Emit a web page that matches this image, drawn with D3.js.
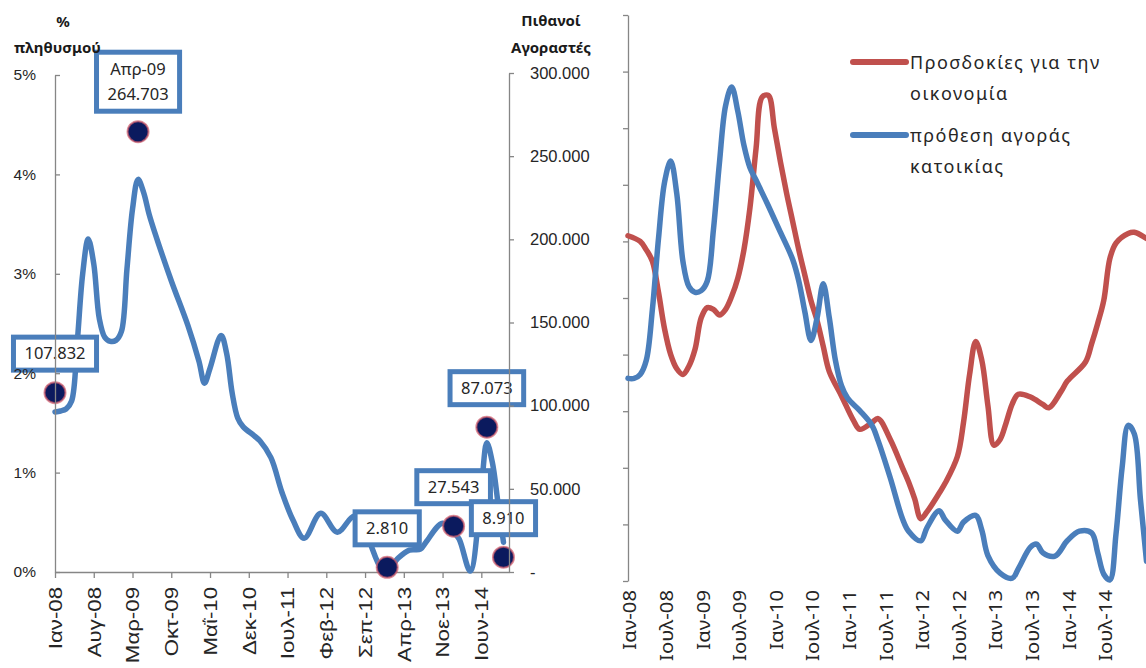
<!DOCTYPE html>
<html>
<head>
<meta charset="utf-8">
<script src="https://cdn.jsdelivr.net/npm/d3@7"></script>
<style>
  body { margin: 0; background: #fff; }
  svg { display: block; font-family: "Noto Sans", "DejaVu Sans", sans-serif; }
</style>
</head>
<body>
<svg id="chart" width="1146" height="668"></svg>
<script>
// ---------- Left panel: share of population intending to buy (month 0 = Ιαν-08) ----------
const shareMonths = [0, 1, 2, 3, 4, 5, 6, 7, 8, 9, 10, 11, 12, 13, 14, 15, 16, 17, 18, 21, 24, 26, 27, 28, 30, 31, 32, 33, 34, 36, 37, 39, 41, 43, 45, 48, 51, 54, 56, 57, 59, 60, 62, 64, 66, 67, 70, 72, 73, 75, 77, 78, 79, 80, 81];
const shareValues = [1.61, 1.62, 1.64, 1.72, 2.3, 3.0, 3.35, 3.1, 2.55, 2.36, 2.32, 2.33, 2.42, 3.05, 3.65, 3.95, 3.82, 3.6, 3.42, 2.93, 2.48, 2.12, 1.9, 2.05, 2.38, 2.2, 1.8, 1.55, 1.46, 1.37, 1.32, 1.15, 0.8, 0.52, 0.34, 0.59, 0.40, 0.56, 0.45, 0.28, 0.03, 0.01, 0.14, 0.22, 0.23, 0.3, 0.49, 0.4, 0.33, 0.01, 0.85, 1.30, 1.1, 0.7, 0.3];

const leftTickMonths = [0, 7, 14, 21, 28, 35, 42, 49, 56, 63, 70, 77];
const leftTickLabels = ["Ιαν-08", "Αυγ-08", "Μαρ-09", "Οκτ-09", "Μαΐ-10", "Δεκ-10", "Ιουλ-11", "Φεβ-12", "Σεπ-12", "Απρ-13", "Νοε-13", "Ιουν-14"];
const shareTicks = [0, 1, 2, 3, 4, 5];
const buyerTicks = [0, 50000, 100000, 150000, 200000, 250000, 300000];

// Highlighted months with the number of potential buyers
const calloutMonths = [0, 15, 60, 72, 78, 81];
const calloutBuyers = [107832, 264703, 2810, 27543, 87073, 8910];
const calloutDates = ["", "Απρ-09", "", "", "", ""];

// ---------- Right panel: two survey indices ----------
const expectMonths = [0, 2, 3, 4, 5, 6, 7, 8, 9, 10, 11, 12, 13, 14, 15, 16, 17, 18, 19, 20, 21, 22, 23, 24, 25, 26, 27, 28, 29, 30, 31, 32, 33, 35, 37, 38, 40, 41, 43, 45, 46, 47, 48, 49, 51, 52, 54, 55, 56, 57, 58, 59, 60, 61, 62, 63, 64, 66, 68, 69, 71, 72, 75, 76, 77, 78, 79, 80, 82, 83, 85];
const expectValues = [61, 60, 58.5, 56.5, 51, 44.5, 40, 37.5, 36.5, 38, 41, 46.5, 48.3, 48, 47, 48, 50.3, 53.5, 58.5, 66, 76.5, 85.5, 85.8, 80, 74, 68.5, 63.5, 58.5, 54, 49.5, 46, 41.5, 37, 32.7, 28.3, 26.8, 28, 28.7, 25, 20, 17.5, 14.5, 11, 12.2, 15.5, 17.3, 22, 28, 36.5, 42.3, 39, 31, 24, 25, 28, 31.3, 33, 32.5, 31.2, 30.6, 33.5, 35.3, 38.7, 41.9, 45.5, 49.6, 57, 59.7, 61.4, 61.6, 60.5];

const intentMonths = [0, 1, 2, 3, 4, 5, 6, 7, 8, 9, 10, 11, 12, 13, 14, 15, 16, 17, 18, 19, 20, 21, 23, 25, 27, 28, 29, 30, 31, 32, 33, 34, 35, 36, 38, 40, 41, 43, 45, 46, 48, 49, 51, 52, 54, 55, 57, 58, 59, 61, 63, 64, 66, 67, 68, 70, 72, 74, 76, 77, 78, 79, 80, 81, 82, 83, 84, 85];
const intentValues = [35.8, 35.8, 36.5, 39, 48, 60.5, 70.5, 74.2, 68.4, 56.5, 52, 51, 51.3, 53, 62, 74, 84, 87.3, 83, 77, 73, 70.8, 66.3, 61.6, 56.8, 53, 47.5, 42.5, 46.5, 52.5, 46.5, 39, 34.5, 32.3, 30.1, 27.5, 24.8, 18.2, 11, 8.8, 7.1, 9.4, 12.4, 10.8, 8.8, 10.4, 11.6, 9, 4.5, 1.4, 0.5, 2.2, 6, 6.5, 5, 4.4, 7.1, 8.8, 8.5, 5, 1.2, 0.2, 8.3, 20, 27.5, 26, 14.5, 3.5];

const rightTickMonths = [0, 6, 12, 18, 24, 30, 36, 42, 48, 54, 60, 66, 72, 78];
const rightTickLabels = ["Ιαν-08", "Ιουλ-08", "Ιαν-09", "Ιουλ-09", "Ιαν-10", "Ιουλ-10", "Ιαν-11", "Ιουλ-11", "Ιαν-12", "Ιουλ-12", "Ιαν-13", "Ιουλ-13", "Ιαν-14", "Ιουλ-14"];
const indexTicks = [0, 10, 20, 30, 40, 50, 60, 70, 80, 90, 100];
const legendNames = [["Προσδοκίες για την", "οικονομία"], ["πρόθεση αγοράς", "κατοικίας"]];

// ---------- Styles ----------
const BLUE = "#4a7ebb";
const RED = "#c0504d";
const AXIS = "#868686";
const TEXT = "#262626";

const grLocale = d3.formatLocale({ decimal: ",", thousands: ".", grouping: [3], currency: ["", "€"] });
const fmtThousands = grLocale.format(",d");

const svg = d3.select("#chart");

// ================= Left panel =================
const xL = d3.scaleLinear().domain([0, 82]).range([55, 509]);
const yShare = d3.scaleLinear().domain([0, 5]).range([572, 75]);
const yBuyers = d3.scaleLinear().domain([0, 300000]).range([572, 73]);

const left = svg.append("g");

// x axis
const xAxisL = left.append("g")
  .attr("transform", `translate(0,${yShare(0)})`)
  .call(d3.axisBottom(xL).tickValues(leftTickMonths).tickSizeInner(6).tickSizeOuter(0)
    .tickFormat((d, i) => leftTickLabels[i]));
xAxisL.select(".domain").attr("stroke", AXIS).attr("stroke-width", 1.3);
xAxisL.selectAll(".tick line").attr("stroke", AXIS).attr("stroke-width", 1.3);
xAxisL.selectAll(".tick text")
  .attr("x", null).attr("y", null).attr("dy", "0.36em")
  .attr("text-anchor", "end")
  .attr("transform", "translate(0,15) rotate(-90) scale(1.27,1)")
  .attr("fill", TEXT).style("font-size", "17.5px");

// share line
const shareLine = d3.line()
  .x((d, i) => xL(shareMonths[i]))
  .y(d => yShare(d))
  .curve(d3.curveCatmullRom.alpha(0.5));
left.append("path")
  .datum(shareValues)
  .attr("d", shareLine)
  .attr("fill", "none")
  .attr("stroke", BLUE)
  .attr("stroke-width", 5.5)
  .attr("stroke-linejoin", "round")
  .attr("stroke-linecap", "round");

// buyer markers
const callouts = calloutMonths.map((m, i) => ({
  m, v: calloutBuyers[i], date: calloutDates[i]
}));
left.append("g").selectAll("circle")
  .data(callouts).join("circle")
  .attr("cx", d => xL(d.m))
  .attr("cy", d => yBuyers(d.v))
  .attr("r", 10.5)
  .attr("fill", "#0b1a5e")
  .attr("stroke", "#d05a6a")
  .attr("stroke-opacity", 0.7)
  .attr("stroke-width", 2);

// callout boxes
const boxes = left.append("g");
callouts.forEach(d => {
  const cx = xL(d.m);
  const cy = yBuyers(d.v);
  const lines = d.date ? [d.date, fmtThousands(d.v)] : [fmtThousands(d.v)];
  const g = boxes.append("g");
  const rect = g.append("rect");
  const txt = g.append("text")
    .attr("text-anchor", "middle")
    .attr("fill", TEXT)
    .style("font-size", "16.5px");
  const lineH = 25;
  const h = lines.length === 1 ? 33 : 59;
  const boxCy = cy - (lines.length === 1 ? 39 : 50);
  lines.forEach((t, k) => {
    txt.append("tspan")
      .attr("x", cx)
      .attr("y", boxCy + (k - (lines.length - 1) / 2) * lineH)
      .attr("dy", "0.35em")
      .text(t);
  });
  const w = txt.node().getBBox().width + 22;
  rect.attr("x", cx - w / 2).attr("y", boxCy - h / 2)
    .attr("width", w).attr("height", h)
    .attr("fill", "#fff")
    .attr("stroke", BLUE)
    .attr("stroke-width", 5);
});

// left axis (% of population)
const yAxisL = left.append("g")
  .attr("transform", `translate(${xL(0)},0)`)
  .call(d3.axisLeft(yShare).tickValues(shareTicks).tickSizeInner(-5).tickSizeOuter(0).tickPadding(19)
    .tickFormat(d => d + "%"));
yAxisL.select(".domain").attr("stroke", AXIS).attr("stroke-width", 1.3);
yAxisL.selectAll(".tick line").attr("stroke", AXIS).attr("stroke-width", 1.3);
yAxisL.selectAll(".tick text").attr("fill", TEXT).style("font-size", "15.5px");

// right axis (potential buyers)
const yAxisR = left.append("g")
  .attr("transform", `translate(${xL(82)},0)`)
  .call(d3.axisRight(yBuyers).tickValues(buyerTicks).tickSizeInner(5).tickSizeOuter(0).tickPadding(16)
    .tickFormat(d => d === 0 ? "-" : fmtThousands(d)));
yAxisR.select(".domain").attr("stroke", AXIS).attr("stroke-width", 1.3);
yAxisR.selectAll(".tick line").attr("stroke", AXIS).attr("stroke-width", 1.3);
yAxisR.selectAll(".tick text").attr("fill", TEXT).style("font-size", "16.5px");

// axis titles
const titleStyle = sel => sel.attr("fill", "#1a1a1a").style("font-size", "15px").style("font-weight", "bold")
  .attr("dominant-baseline", "central");
left.append("text").attr("x", 63).attr("y", 21).attr("text-anchor", "middle").text("%").call(titleStyle);
left.append("text").attr("x", 14).attr("y", 47).attr("text-anchor", "start").text("πληθυσμού").call(titleStyle);
left.append("text").attr("x", 551).attr("y", 20).attr("text-anchor", "middle").text("Πιθανοί").call(titleStyle);
left.append("text").attr("x", 551).attr("y", 47).attr("text-anchor", "middle").text("Αγοραστές").call(titleStyle);

// ================= Right panel =================
const xR = d3.scaleLinear().domain([0, 85]).range([628, 1146.5]);
const yIdx = d3.scaleLinear().domain([0, 100]).range([581, 15]);

const right = svg.append("g");

const yAxisIdx = right.append("g")
  .attr("transform", `translate(${xR(0)},0)`)
  .call(d3.axisLeft(yIdx).tickValues(indexTicks).tickSizeInner(5).tickSizeOuter(0).tickFormat(""));
yAxisIdx.select(".domain").attr("stroke", AXIS).attr("stroke-width", 1.3);
yAxisIdx.selectAll(".tick line").attr("stroke", AXIS).attr("stroke-width", 1.3);

right.append("g").selectAll("text")
  .data(rightTickMonths).join("text")
  .attr("transform", d => `translate(${xR(d) + 2},590) rotate(-90) scale(1.16,1)`)
  .attr("dy", "0.36em")
  .attr("text-anchor", "end")
  .attr("fill", TEXT)
  .style("font-size", "17.5px")
  .text((d, i) => rightTickLabels[i]);

const series = [
  { months: expectMonths, values: expectValues, color: RED },
  { months: intentMonths, values: intentValues, color: BLUE }
];
series.forEach(s => {
  const line = d3.line()
    .x((d, i) => xR(s.months[i]))
    .y(d => yIdx(d))
    .curve(d3.curveCatmullRom.alpha(0.5));
  right.append("path")
    .datum(s.values)
    .attr("d", line)
    .attr("fill", "none")
    .attr("stroke", s.color)
    .attr("stroke-width", 5.5)
    .attr("stroke-linejoin", "round")
    .attr("stroke-linecap", "round");
});

// legend
const legend = right.append("g");
const legendRows = [62, 135];
series.forEach((s, i) => {
  const y = legendRows[i];
  legend.append("line")
    .attr("x1", 853).attr("x2", 906).attr("y1", y).attr("y2", y)
    .attr("stroke", s.color).attr("stroke-width", 6).attr("stroke-linecap", "round");
  legendNames[i].forEach((t, k) => {
    legend.append("text")
      .attr("x", 910).attr("y", y + k * 31)
      .attr("dominant-baseline", "central")
      .attr("fill", TEXT)
      .style("font-size", "18px")
      .style("letter-spacing", "1.5px")
      .text(t);
  });
});
</script>
</body>
</html>
